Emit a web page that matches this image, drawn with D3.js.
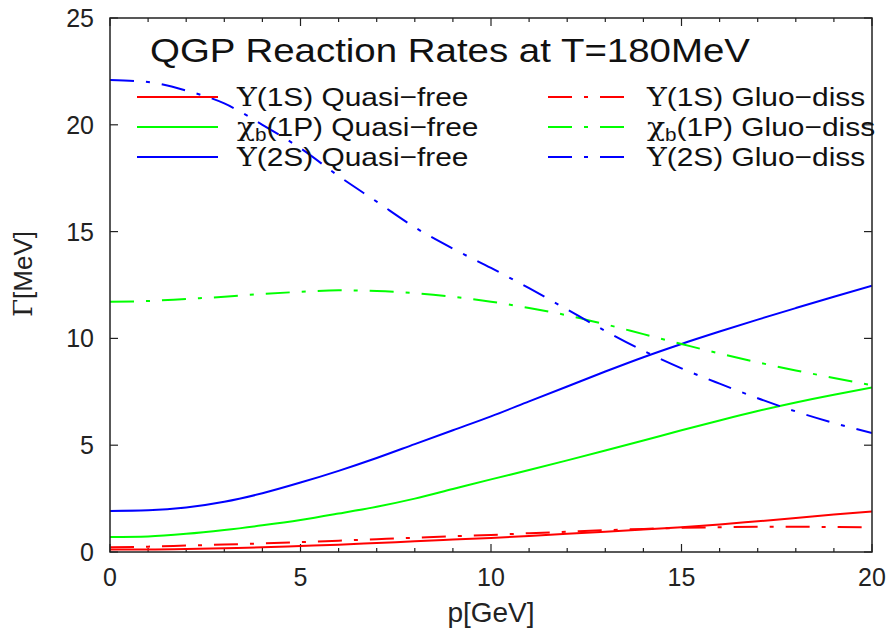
<!DOCTYPE html>
<html>
<head>
<meta charset="utf-8">
<script src="https://cdn.jsdelivr.net/npm/d3@7"></script>
<style>
  body { margin: 0; background: #fff; }
  svg { display: block; font-family: "Liberation Sans", Arial, sans-serif; }
</style>
</head>
<body>
<div id="chart"></div>
<script>
// momentum grid p[GeV]
const pGrid = [0,1,2,3,4,5,6,7,8,9,10,11,12,13,14,15,16,17,18,19,20];

// Gamma [MeV] per state
const y1sQuasi = [0.12,0.12,0.14,0.18,0.22,0.28,0.34,0.42,0.50,0.58,0.66,0.75,0.85,0.95,1.05,1.16,1.29,1.44,1.59,1.75,1.90];
const chiQuasi = [0.70,0.73,0.85,1.03,1.25,1.50,1.80,2.12,2.50,2.95,3.40,3.84,4.29,4.75,5.22,5.70,6.16,6.60,7.00,7.36,7.70];
const y2sQuasi = [1.92,1.95,2.08,2.35,2.75,3.25,3.80,4.40,5.05,5.70,6.35,7.05,7.75,8.45,9.12,9.74,10.32,10.88,11.42,11.95,12.47];
const y1sGluo  = [0.22,0.25,0.30,0.35,0.40,0.46,0.53,0.60,0.67,0.74,0.80,0.88,0.95,1.02,1.08,1.13,1.16,1.18,1.18,1.17,1.16];
const chiGluo  = [11.72,11.75,11.85,11.95,12.08,12.18,12.25,12.22,12.12,11.95,11.72,11.42,11.08,10.66,10.20,9.74,9.29,8.88,8.50,8.15,7.80];
const y2sGluo  = [22.1,22.0,21.6,21.0,20.0,18.9,17.6,16.4,15.2,14.2,13.3,12.35,11.35,10.35,9.42,8.6,7.88,7.2,6.58,6.04,5.57];

const xTicks = [0,5,10,15,20];
const yTicks = [0,5,10,15,20,25];

const series = [
  { name: 'Υ', sub: '', state: '(1S) Quasi−free', values: y1sQuasi, color: '#ff0000', dash: null, col: 0, row: 0 },
  { name: 'χ', sub: 'b', state: '(1P) Quasi−free', values: chiQuasi, color: '#00ff00', dash: null, col: 0, row: 1 },
  { name: 'Υ', sub: '', state: '(2S) Quasi−free', values: y2sQuasi, color: '#0000ff', dash: null, col: 0, row: 2 },
  { name: 'Υ', sub: '', state: '(1S) Gluo−diss', values: y1sGluo, color: '#ff0000', dash: '24,12,4,12', col: 1, row: 0 },
  { name: 'χ', sub: 'b', state: '(1P) Gluo−diss', values: chiGluo, color: '#00ff00', dash: '24,12,4,12', col: 1, row: 1 },
  { name: 'Υ', sub: '', state: '(2S) Gluo−diss', values: y2sGluo, color: '#0000ff', dash: '24,12,4,12', col: 1, row: 2 }
];

const W = 889, H = 634;
const m = { l: 110, r: 17, t: 18, b: 82 };
const iw = W - m.l - m.r, ih = H - m.t - m.b;

const svg = d3.select('#chart').append('svg').attr('width', W).attr('height', H);

const x = d3.scaleLinear().domain([0, 20]).range([m.l, m.l + iw]);
const y = d3.scaleLinear().domain([0, 25]).range([m.t + ih, m.t]);

svg.append('clipPath').attr('id', 'clip')
  .append('rect').attr('x', m.l).attr('y', m.t).attr('width', iw).attr('height', ih);

// ticks (inward, gnuplot style)
const axisCol = '#222';
const minorX = d3.range(0, 21);
const tickG = svg.append('g').attr('stroke', axisCol).attr('stroke-width', 1.2);
minorX.forEach(v => {
  const len = v % 5 === 0 ? 8 : 4;
  tickG.append('line').attr('x1', x(v)).attr('x2', x(v)).attr('y1', y(0)).attr('y2', y(0) - len);
  tickG.append('line').attr('x1', x(v)).attr('x2', x(v)).attr('y1', y(25)).attr('y2', y(25) + len);
});
yTicks.forEach(v => {
  tickG.append('line').attr('x1', x(0)).attr('x2', x(0) + 8).attr('y1', y(v)).attr('y2', y(v));
  tickG.append('line').attr('x1', x(20)).attr('x2', x(20) - 8).attr('y1', y(v)).attr('y2', y(v));
});

// tick labels
svg.append('g').selectAll('text').data(xTicks).enter().append('text')
  .attr('x', d => x(d)).attr('y', 586).attr('text-anchor', 'middle')
  .attr('font-size', 25).attr('fill', '#222').text(d => d);
svg.append('g').selectAll('text').data(yTicks).enter().append('text')
  .attr('x', 94).attr('y', d => y(d) + 9).attr('text-anchor', 'end')
  .attr('font-size', 25).attr('fill', '#222').text(d => d);

// curves
const line = d3.line().x((d, i) => x(pGrid[i])).y(d => y(d)).curve(d3.curveMonotoneX);
const plot = svg.append('g').attr('clip-path', 'url(#clip)');
series.forEach(s => {
  plot.append('path').attr('d', line(s.values))
    .attr('fill', 'none').attr('stroke', s.color).attr('stroke-width', 2)
    .attr('stroke-dasharray', s.dash);
});

// frame
svg.append('rect').attr('x', m.l).attr('y', m.t).attr('width', iw).attr('height', ih)
  .attr('fill', 'none').attr('stroke', axisCol).attr('stroke-width', 1.5);

// title (glyphs in the original are a bit wider than Liberation Sans)
svg.append('text').attr('x', 150).attr('y', 62).attr('font-size', 33).attr('fill', '#111')
  .attr('textLength', 600).attr('lengthAdjust', 'spacingAndGlyphs')
  .text('QGP Reaction Rates at T=180MeV');

// legend
const legX = [[137, 218, 237], [548, 629, 647]];
const legY = [97, 127, 157];
series.forEach(s => {
  const [x1, x2, tx] = legX[s.col];
  const ly = legY[s.row];
  svg.append('line').attr('x1', x1).attr('x2', x2).attr('y1', ly).attr('y2', ly)
    .attr('stroke', s.color).attr('stroke-width', 2).attr('stroke-dasharray', s.dash);
  const t = svg.append('text').attr('transform', `translate(${tx},${ly + 9}) scale(1.15,1)`)
    .attr('font-size', 26).attr('fill', '#111');
  t.append('tspan').attr('font-family', '"DejaVu Serif", "Liberation Serif", serif').text(s.name);
  if (s.sub) t.append('tspan').attr('dy', 5).attr('font-size', 18).text(s.sub);
  t.append('tspan').attr('dy', s.sub ? -5 : 0).text(s.state);
});

// axis titles
svg.append('text').attr('x', x(10)).attr('y', 622).attr('text-anchor', 'middle')
  .attr('font-size', 28).attr('fill', '#222').text('p[GeV]');
const yl = svg.append('text').attr('transform', 'translate(32,274) rotate(-90)')
  .attr('text-anchor', 'middle').attr('font-size', 26).attr('fill', '#222');
yl.append('tspan').attr('font-family', '"DejaVu Serif", "Liberation Serif", serif').text('Γ');
yl.append('tspan').text('[MeV]');
</script>
</body>
</html>
